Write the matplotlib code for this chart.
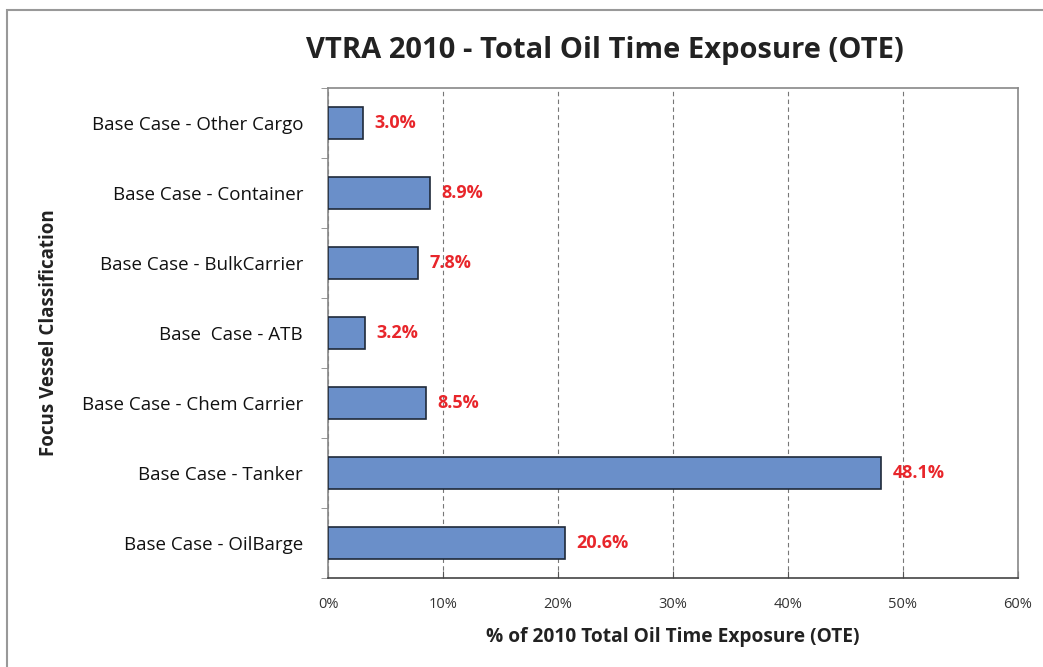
import matplotlib
matplotlib.use("Agg")
import matplotlib.pyplot as plt
from matplotlib.patches import Rectangle

plt.rcParams['font.family'] = ['Open Sans', 'DejaVu Sans']

categories = ["Base Case - Other Cargo", "Base Case - Container", "Base Case - BulkCarrier",
              "Base  Case - ATB", "Base Case - Chem Carrier", "Base Case - Tanker",
              "Base Case - OilBarge"]
values = [3.0, 8.9, 7.8, 3.2, 8.5, 48.1, 20.6]
xticks = [0, 10, 20, 30, 40, 50, 60]

fig = plt.figure(figsize=(10.43, 6.67), dpi=100)
ax = fig.add_axes([0.3145, 0.1334, 0.6615, 0.7346])

n = len(categories)
ypos = list(range(n))[::-1]
ax.barh(ypos, values, height=0.47, color="#6a8fc9", edgecolor="#1f2a3a", linewidth=1.2, zorder=3)
for y, v in zip(ypos, values):
    ax.text(v + 1.0, y, f"{v:.1f}%", color="#e8262b", fontsize=13, fontweight="bold",
            va="center", ha="left", zorder=4)

ax.set_xlim(0, 60)
ax.set_ylim(-0.5, n - 0.5)
ax.set_xticks(xticks)
ax.set_xticklabels([f"{t}%" for t in xticks], fontsize=10.5, color="#333333")
ax.set_yticks(ypos)
ax.set_yticklabels(categories, fontsize=13.5, color="#111111")
ax.tick_params(axis='y', length=0, pad=18)
ax.tick_params(axis='x', length=5, direction='in', color="#555555", pad=14)
ax.set_yticks([i - 0.5 for i in range(n + 1)], minor=True)
ax.tick_params(axis='y', which='minor', length=5, direction='out', color="#888888")

ax.grid(axis='x', linestyle=(0, (4, 3)), color="#777777", linewidth=0.8, zorder=0)
for s in ax.spines.values():
    s.set_color("#888888")
    s.set_linewidth(1.2)
ax.spines['bottom'].set_color("#444444")

ax.set_xlabel("% of 2010 Total Oil Time Exposure (OTE)", fontsize=13.8, fontweight="bold",
              color="#222222")
ax.xaxis.set_label_coords(0.5, -0.1)
ax.set_ylabel("Focus Vessel Classification", fontsize=13.5, fontweight="bold",
              color="#222222")
ax.yaxis.set_label_coords(-0.39, 0.5)
fig.text(0.58, 0.925, "VTRA 2010 - Total Oil Time Exposure (OTE)", fontsize=21,
         fontweight="bold", ha="center", va="center", color="#222222")

fig.patches.append(Rectangle((0.007, -0.01), 1.0, 0.995, transform=fig.transFigure,
                             fill=False, edgecolor="#999999", linewidth=1.5))

fig.savefig("out.png", dpi=100)
